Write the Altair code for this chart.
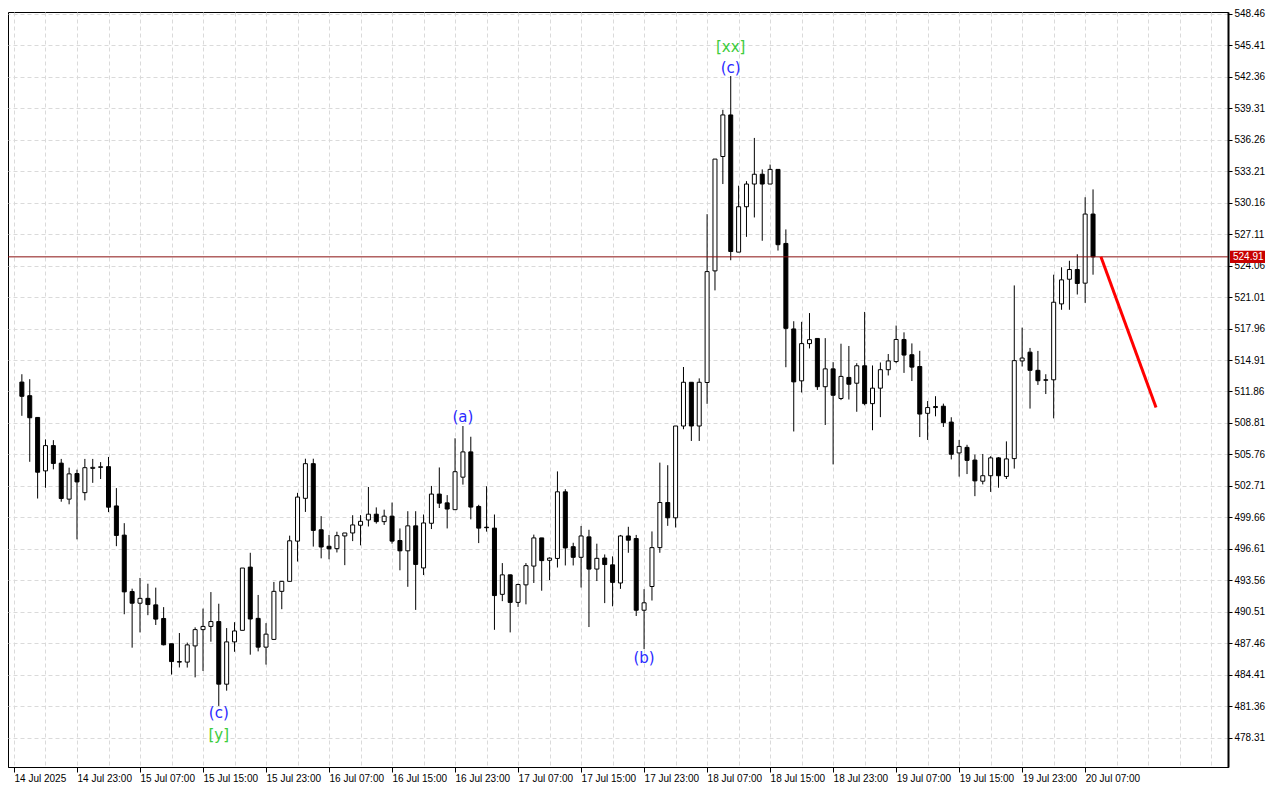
import altair as alt
import pandas as pd

# Hourly candles, hour index 0 = 14 Jul 2025 16:00
opens = [512.77, 511.45, 509.34, 504.16, 506.61, 504.91, 501.42, 503.90, 502.05, 504.40,
         504.50, 504.57, 500.76, 497.93, 492.46, 491.33, 491.80, 491.17, 489.85, 487.40,
         485.67, 485.62, 487.19, 488.77, 489.08, 489.55, 483.48, 487.58, 488.70, 494.83,
         489.86, 487.07, 487.82, 492.48, 493.45, 497.35, 501.50, 504.86, 498.45, 496.85,
         496.62, 497.85, 498.14, 498.89, 499.40, 499.96, 499.24, 499.77, 497.41, 496.41,
         498.83, 494.75, 499.08, 501.91, 501.06, 500.40, 503.55, 506.00, 500.71, 498.70,
         498.61, 492.19, 494.08, 491.41, 493.11, 494.93, 497.66, 495.49, 495.67, 502.13,
         496.81, 495.78, 497.76, 494.64, 495.71, 495.05, 493.29, 497.85, 497.60, 490.65,
         492.95, 496.72, 501.09, 499.61, 508.51, 512.75, 508.51, 512.73, 523.55, 534.64,
         538.67, 525.37, 529.77, 531.97, 532.92, 531.97, 533.39, 526.21, 517.92, 512.89,
         516.50, 517.00, 512.32, 514.05, 511.18, 513.22, 512.66, 514.35, 510.68, 512.18,
         513.97, 514.76, 516.90, 515.42, 514.28, 509.74, 510.30, 510.43, 508.89, 505.90,
         506.44, 505.21, 503.16, 503.69, 505.42, 503.62, 505.35, 514.82, 515.67, 513.91,
         512.99, 512.99, 520.35, 522.74, 523.68, 522.36, 529.06]
highs = [513.53, 513.05, 509.34, 507.21, 507.14, 505.32, 504.47, 504.28, 505.32, 505.32,
         505.01, 505.51, 502.49, 499.09, 492.74, 493.78, 493.22, 492.84, 490.95, 487.40,
         488.44, 487.51, 488.99, 490.81, 492.41, 491.28, 488.92, 489.49, 494.74, 496.22,
         492.13, 489.40, 493.39, 493.48, 497.88, 502.03, 505.34, 505.34, 499.77, 497.95,
         498.26, 498.14, 499.86, 499.87, 502.60, 500.62, 500.40, 501.09, 498.58, 500.25,
         500.25, 499.93, 502.70, 504.49, 501.81, 507.32, 508.51, 507.47, 500.87, 502.67,
         499.93, 495.22, 494.11, 493.23, 495.22, 497.98, 497.66, 495.77, 504.11, 502.38,
         497.19, 498.82, 498.45, 497.10, 496.06, 495.87, 497.95, 498.74, 497.95, 492.69,
         498.29, 504.96, 504.71, 508.51, 514.23, 512.75, 513.13, 529.05, 534.39, 539.17,
         542.44, 531.81, 532.25, 536.44, 533.39, 533.86, 533.39, 527.57, 518.67, 518.61,
         519.46, 517.00, 517.03, 514.70, 516.49, 516.27, 514.60, 519.57, 514.38, 514.67,
         515.49, 518.25, 517.59, 516.52, 515.80, 510.93, 511.40, 510.68, 509.36, 507.16,
         506.69, 505.74, 505.80, 505.58, 505.49, 507.02, 522.14, 518.05, 516.08, 515.79,
         513.53, 523.18, 523.90, 524.53, 525.16, 530.69, 531.45]
lows = [509.50, 505.04, 501.48, 502.52, 504.31, 501.17, 500.92, 497.52, 501.30, 503.00,
        503.37, 500.16, 496.86, 490.26, 487.02, 488.50, 490.17, 489.22, 487.24, 484.41,
        485.10, 485.09, 484.14, 484.76, 487.60, 481.37, 482.85, 486.62, 488.70, 486.34,
        486.66, 485.38, 487.76, 490.75, 493.45, 495.37, 500.18, 496.82, 495.68, 495.59,
        496.25, 495.02, 497.35, 496.94, 498.77, 499.05, 498.92, 497.10, 494.52, 492.92,
        490.68, 494.06, 498.52, 500.56, 498.58, 500.40, 502.83, 499.46, 497.16, 498.27,
        488.75, 491.53, 488.50, 490.97, 491.22, 493.29, 492.54, 493.57, 494.79, 494.99,
        494.99, 492.85, 489.02, 493.48, 491.34, 491.03, 492.72, 496.22, 490.09, 486.88,
        491.59, 496.22, 498.83, 498.67, 508.20, 507.06, 507.06, 510.66, 521.66, 531.97,
        524.58, 525.37, 526.85, 528.73, 526.47, 531.97, 525.52, 514.21, 507.98, 511.76,
        516.03, 512.01, 508.61, 504.79, 511.02, 511.08, 509.89, 510.52, 508.10, 509.37,
        513.41, 514.60, 513.66, 512.87, 507.44, 507.16, 509.45, 508.42, 505.27, 503.60,
        503.85, 501.71, 502.85, 502.12, 502.53, 503.37, 504.38, 514.28, 510.20, 512.49,
        511.61, 509.25, 519.78, 519.78, 521.26, 520.45, 523.18]
closes = [511.39, 509.31, 504.03, 506.61, 504.88, 501.48, 503.87, 503.09, 504.47, 504.50,
          504.56, 500.64, 497.90, 492.43, 491.33, 491.80, 491.20, 489.79, 487.30, 485.67,
          485.62, 487.29, 488.77, 489.08, 489.55, 483.48, 487.58, 488.64, 494.74, 489.80,
          487.07, 488.33, 492.48, 493.45, 497.38, 501.62, 504.86, 498.39, 496.78, 496.60,
          497.88, 498.14, 498.92, 499.27, 499.96, 499.24, 499.77, 497.35, 496.41, 498.83,
          495.09, 499.11, 501.91, 501.03, 500.46, 504.08, 506.00, 500.65, 498.61, 498.65,
          492.07, 494.08, 491.41, 493.14, 494.97, 497.66, 495.46, 495.70, 502.13, 496.69,
          495.78, 497.85, 494.64, 495.68, 495.08, 493.35, 497.85, 497.44, 490.65, 491.37,
          496.72, 501.09, 499.61, 508.51, 512.75, 508.51, 512.75, 523.48, 534.39, 538.67,
          525.43, 529.77, 531.97, 532.92, 531.97, 533.39, 526.09, 517.98, 512.79, 516.50,
          516.88, 512.32, 514.05, 511.49, 513.32, 512.56, 514.35, 510.68, 512.18, 513.97,
          514.82, 516.90, 515.39, 514.22, 509.67, 510.30, 510.40, 508.83, 505.77, 506.53,
          505.18, 503.19, 503.69, 505.42, 503.69, 505.32, 514.85, 515.10, 513.91, 512.90,
          512.95, 520.51, 522.68, 523.68, 522.33, 529.06, 524.91]

# x-axis (hour offsets from first candle) and labels
tick_hours = list(range(-1, 136, 8))
tick_labels = ["14 Jul 2025", "14 Jul 23:00", "15 Jul 07:00", "15 Jul 15:00", "15 Jul 23:00",
               "16 Jul 07:00", "16 Jul 15:00", "16 Jul 23:00", "17 Jul 07:00", "17 Jul 15:00",
               "17 Jul 23:00", "18 Jul 07:00", "18 Jul 15:00", "18 Jul 23:00", "19 Jul 07:00",
               "19 Jul 15:00", "19 Jul 23:00", "20 Jul 07:00"]
grid_hours = list(range(-1, 152, 4))

y_ticks = [548.46, 545.41, 542.36, 539.31, 536.26, 533.21, 530.16, 527.11, 524.06, 521.01,
           517.96, 514.91, 511.86, 508.81, 505.76, 502.71, 499.66, 496.61, 493.56, 490.51,
           487.46, 484.41, 481.36, 478.31]

current_price = 524.91
forecast_hours = [137, 144]
forecast_prices = [524.91, 510.30]

ann_text = ["(c)", "[y]", "(a)", "(b)", "(c)", "[xx]"]
ann_hours = [25, 25, 56, 79, 90, 90]
ann_prices = [480.64, 478.57, 509.39, 486.02, 543.23, 545.30]
ann_colors = ["#2a2aff", "#3ccc3c", "#2a2aff", "#2a2aff", "#2a2aff", "#3ccc3c"]

W, H = 1220, 755
FONT = "Liberation Sans"
last_tick = tick_hours[-1]

candles = pd.DataFrame({"k": list(range(len(opens))), "open": opens, "high": highs,
                        "low": lows, "close": closes})
ann = pd.DataFrame({"k": ann_hours, "price": ann_prices, "text": ann_text, "color": ann_colors})
fc = pd.DataFrame({"k": forecast_hours, "price": forecast_prices})
cur = pd.DataFrame({"price": [current_price]})

xscale = alt.Scale(domain=[-1.125, 152.5], nice=False, zero=False)
yscale = alt.Scale(domain=[475.45, 548.65], nice=False, zero=False)

label_arr = "[" + ",".join("'%s'" % t for t in tick_labels) + "]"
is_label = "((datum.value + 1) %% 8 == 0 && datum.value <= %d)" % last_tick
x_axis = alt.Axis(
    values=grid_hours, title=None, grid=True, gridDash=[4, 3], gridColor="#dadada",
    labelExpr=is_label + " ? " + label_arr + "[(datum.value + 1) / 8] : ''",
    tickColor={"condition": {"test": is_label, "value": "black"}, "value": "transparent"},
    tickSize=5, labelPadding=1, labelAlign="left", labelBaseline="top",
    labelFont=FONT, labelFontSize=10, labelColor="black", labelOverlap=False,
    labelFlush=False, domainColor="black", domainWidth=1)
y_axis = alt.Axis(
    values=y_ticks, orient="right", title=None, format=".2f", grid=True, gridDash=[4, 3],
    gridColor="#dadada", tickColor="black", tickSize=4, labelPadding=2,
    labelFont=FONT, labelFontSize=10, labelColor="black", labelOverlap=False,
    labelFlush=False, domainColor="black", domainWidth=2)


def X(field="k:Q"):
    return alt.X(field, scale=xscale, axis=x_axis, title=None)


def Y(field):
    return alt.Y(field, scale=yscale, axis=y_axis, title=None)


wicks = alt.Chart(candles).mark_rule(color="black", strokeWidth=1).encode(
    x=X(), y=Y("low:Q"), y2="high:Q")

bodies = alt.Chart(candles).mark_bar(size=4, stroke="black", strokeWidth=1).encode(
    x=X(), y=Y("open:Q"), y2="close:Q",
    fill=alt.condition("datum.close >= datum.open", alt.value("white"), alt.value("black")))

cur_line = alt.Chart(cur).mark_rule(color="#8a1010", strokeWidth=1).encode(y=Y("price:Q"))

tag = alt.Chart(cur).transform_calculate(
    top="datum.price + 0.6", bot="datum.price - 0.6").mark_rect(color="#c80000").encode(
    y=Y("top:Q"), y2="bot:Q", x=alt.value(W + 2), x2=alt.value(W + 37))
tag_text = alt.Chart(cur).mark_text(align="left", baseline="middle", color="white",
                                    font=FONT, fontSize=10).encode(
    y=Y("price:Q"), x=alt.value(W + 5), text=alt.Text("price:Q", format=".2f"))

forecast = alt.Chart(fc).mark_line(color="#ff0000", strokeWidth=3).encode(
    x=X(), y=Y("price:Q"))

labels = alt.Chart(ann).mark_text(font="DejaVu Sans", fontSize=15, baseline="middle").encode(
    x=X(), y=Y("price:Q"), text="text:N", color=alt.Color("color:N", scale=None))

chart = alt.layer(wicks, bodies, cur_line, forecast, labels, tag, tag_text).properties(
    width=W, height=H,
    autosize=alt.AutoSizeParams(type="none"),
    padding={"left": 0, "top": 4, "right": 42, "bottom": 18},
    background="white",
).configure_view(stroke="black", strokeWidth=1)

chart.save("out.html", embed_options={"renderer": "svg", "actions": False})
